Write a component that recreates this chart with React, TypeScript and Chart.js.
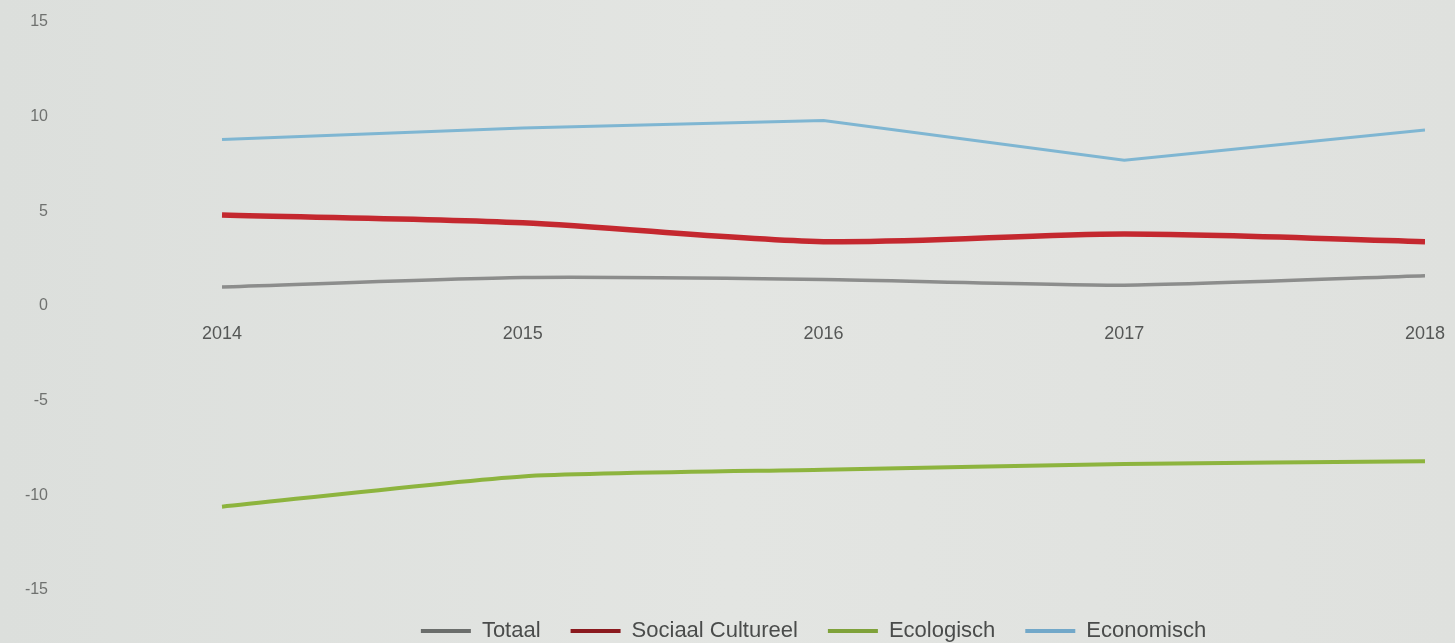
import React, { useEffect, useRef } from "react";
import { Chart, registerables } from "chart.js";

Chart.register(...registerables);

const years = [2014, 2015, 2016, 2017, 2018];
const totaal = [1.0, 1.5, 1.4, 1.1, 1.6];
const sociaalCultureel = [4.8, 4.4, 3.4, 3.8, 3.4];
const ecologisch = [-10.6, -9.0, -8.65, -8.35, -8.2];
const economisch = [8.8, 9.4, 9.8, 7.7, 9.3];
const yTicks = [-15, -10, -5, 0, 5, 10, 15];

const pts = (vals: number[]) => vals.map((v, i) => ({ x: years[i], y: v }));

const legendShift = {
  id: "legendShift",
  afterLayout(chart: any) {
    const l = chart.legend;
    if (!l) return;
    l.left = 172;
    l.right = 1455;
    l.top = 590;
  },
};

export default function App() {
  const ref = useRef<HTMLCanvasElement | null>(null);

  useEffect(() => {
    if (!ref.current) return;
    const font = "'Liberation Sans', Arial, sans-serif";
    const chart = new Chart(ref.current, {
      type: "line",
      data: {
        datasets: [
          {
            label: "Totaal",
            data: pts(totaal),
            borderColor: "#8c8d8c",
            backgroundColor: "#6b6e6c",
            borderWidth: 3.5,
            pointRadius: 0,
            tension: 0.2,
          },
          {
            label: "Sociaal Cultureel",
            data: pts(sociaalCultureel),
            borderColor: "#c4282f",
            backgroundColor: "#8b1a1f",
            borderWidth: 5.5,
            pointRadius: 0,
            tension: 0.3,
          },
          {
            label: "Ecologisch",
            data: pts(ecologisch),
            borderColor: "#8db43e",
            backgroundColor: "#7fa23a",
            borderWidth: 4,
            pointRadius: 0,
            tension: 0.2,
          },
          {
            label: "Economisch",
            data: pts(economisch),
            borderColor: "#7fb6d2",
            backgroundColor: "#72a8c9",
            borderWidth: 3,
            pointRadius: 0,
            tension: 0,
          },
        ],
      },
      plugins: [legendShift],
      options: {
        animation: false,
        responsive: false,
        maintainAspectRatio: false,
        layout: { padding: { left: 0, right: 30, top: 22, bottom: 0 } },
        plugins: {
          tooltip: { enabled: false },
          legend: {
            position: "bottom",
            maxHeight: 53,
            labels: {
              boxWidth: 50,
              boxHeight: 4,
              padding: 30,
              color: "#4a4c4b",
              font: { family: font, size: 22 },
              generateLabels: (c: any) =>
                Chart.defaults.plugins.legend.labels
                  .generateLabels(c)
                  .map((l: any) => ({ ...l, lineWidth: 0, strokeStyle: "transparent" })),
            },
          },
        },
        scales: {
          x: {
            type: "linear",
            min: 2013.4447,
            max: 2018,
            position: { y: 0 } as any,
            grid: { display: false, drawTicks: false },
            border: { display: false },
            afterFit: (s: any) => {
              s.paddingLeft = 0;
              s.paddingRight = 0;
            },
            ticks: {
              stepSize: 1,
              includeBounds: false,
              padding: 17,
              color: "#555756",
              maxRotation: 0,
              font: { family: font, size: 18 },
              callback: (v: any) => String(v),
            },
          },
          y: {
            min: -15,
            max: 15,
            grid: { display: false, drawTicks: false },
            border: { display: false },
            afterFit: (s: any) => {
              s.width = 55;
            },
            afterBuildTicks: (s: any) => {
              s.ticks = yTicks.map((v) => ({ value: v }));
            },
            ticks: {
              padding: 7,
              color: "#6f716f",
              font: { family: font, size: 16 },
            },
          },
        },
      },
    });
    return () => chart.destroy();
  }, []);

  return (
    <div
      style={{
        position: "fixed",
        left: 0,
        top: 0,
        width: 1455,
        height: 643,
        background: "linear-gradient(90deg, #dcdfdc 0%, #e3e5e2 50%, #dfe1de 100%)",
      }}
    >
      <canvas ref={ref} width={1455} height={643} />
    </div>
  );
}
